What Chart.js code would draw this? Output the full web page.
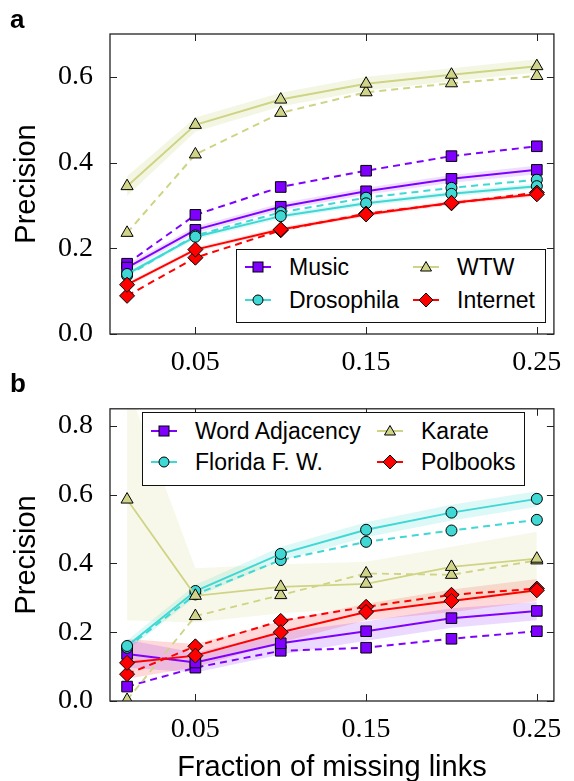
<!DOCTYPE html>
<html><head><meta charset="utf-8">
<script src="https://cdn.jsdelivr.net/npm/chart.js@4.4.0/dist/chart.umd.min.js"></script>
<style>
html,body{margin:0;padding:0;background:#fff;overflow:hidden;width:574px;height:781px;position:relative;}
canvas{position:absolute;left:0;}
#cA{top:0;}
#cB{top:375px;}
.panel{position:absolute;font:bold 26px "Liberation Sans",Arial,sans-serif;color:#000;line-height:26px;}
.legend{position:absolute;border:1px solid #111;background:#fff;font-family:"Liberation Sans",Arial,sans-serif;font-size:23px;color:#000;z-index:5;box-sizing:border-box;}
.legend svg{position:absolute;overflow:visible;}
.legend span{position:absolute;white-space:nowrap;line-height:30px;height:30px;}
</style></head>
<body>
<canvas id="cA" width="574" height="375"></canvas>
<canvas id="cB" width="574" height="430"></canvas>
<div class="panel" style="left:10px;top:6px;">a</div>
<div class="panel" style="left:10px;top:370px;">b</div>
<div class="legend" id="legA" style="left:236px;top:249px;width:310px;height:74px;"></div>
<div class="legend" id="legB" style="left:142px;top:412px;width:383px;height:74px;"></div>
<script>
// ---------------- data ----------------
const xValues = [0.01, 0.05, 0.10, 0.15, 0.20, 0.25];
const xTickValues = [0.05, 0.15, 0.25];
const xTickLabels = ['0.05', '0.15', '0.25'];
const yTickValuesA = [0.0, 0.2, 0.4, 0.6];
const yTickLabelsA = ['0.0', '0.2', '0.4', '0.6'];
const yTickValuesB = [0.0, 0.2, 0.4, 0.6, 0.8];
const yTickLabelsB = ['0.0', '0.2', '0.4', '0.6', '0.8'];

const legendNamesA = ['Music', 'Drosophila', 'WTW', 'Internet'];
const legendNamesB = ['Word Adjacency', 'Florida F. W.', 'Karate', 'Polbooks'];

// Panel a
const musicSolid    = [0.155, 0.243, 0.297, 0.333, 0.362, 0.383];
const musicDashed   = [0.164, 0.278, 0.343, 0.381, 0.415, 0.438];
const musicLow      = [0.147, 0.235, 0.289, 0.325, 0.353, 0.373];
const musicHigh     = [0.163, 0.251, 0.305, 0.341, 0.371, 0.393];
const drosSolid     = [0.140, 0.227, 0.275, 0.305, 0.327, 0.345];
const drosDashed    = [0.136, 0.230, 0.284, 0.318, 0.341, 0.360];
const drosLow       = [0.134, 0.221, 0.269, 0.299, 0.321, 0.339];
const drosHigh      = [0.146, 0.233, 0.281, 0.311, 0.333, 0.351];
const wtwSolid      = [0.345, 0.488, 0.547, 0.584, 0.605, 0.625];
const wtwDashed     = [0.236, 0.419, 0.516, 0.564, 0.585, 0.602];
const wtwLow        = [0.322, 0.472, 0.531, 0.568, 0.590, 0.610];
const wtwHigh       = [0.368, 0.505, 0.563, 0.600, 0.620, 0.641];
const internetSolid = [0.115, 0.197, 0.244, 0.279, 0.306, 0.326];
const internetDashed= [0.089, 0.178, 0.242, 0.281, 0.305, 0.330];
const internetLow   = [0.110, 0.192, 0.239, 0.274, 0.301, 0.321];
const internetHigh  = [0.120, 0.202, 0.249, 0.284, 0.311, 0.331];

// Panel b
const wordSolid     = [0.137, 0.112, 0.168, 0.203, 0.241, 0.262];
const wordDashed    = [0.042, 0.097, 0.146, 0.155, 0.181, 0.203];
const wordLow       = [0.097, 0.083, 0.135, 0.175, 0.213, 0.235];
const wordHigh      = [0.178, 0.140, 0.200, 0.232, 0.270, 0.288];
const floridaSolid  = [0.160, 0.320, 0.428, 0.498, 0.548, 0.588];
const floridaDashed = [0.155, 0.310, 0.410, 0.463, 0.496, 0.527];
const floridaLow    = [0.146, 0.302, 0.408, 0.476, 0.525, 0.565];
const floridaHigh   = [0.176, 0.338, 0.448, 0.520, 0.571, 0.610];
const karateSolid   = [0.586, 0.306, 0.332, 0.341, 0.390, 0.414];
const karateDashed  = [0.003, 0.247, 0.308, 0.371, 0.367, 0.409];
const karateLow     = [0.235, 0.228, 0.255, 0.270, 0.290, 0.310];
const karateHigh    = [0.920, 0.386, 0.398, 0.405, 0.449, 0.492];
const polSolid      = [0.111, 0.132, 0.200, 0.259, 0.291, 0.322];
const polDashed     = [0.078, 0.159, 0.233, 0.274, 0.309, 0.327];
const polLow        = [0.065, 0.098, 0.170, 0.235, 0.258, 0.290];
const polHigh       = [0.180, 0.166, 0.232, 0.283, 0.324, 0.355];

// ---------------- styles ----------------
const PURPLE = '#7f00ff', CYAN = '#3fd8d4', KHAKI = '#cfd484', RED = '#ff0000';
const KHAKI_FILL = '#d0d488';
const SERIF = '"Liberation Serif","Times New Roman",serif';
const SANS = '"Liberation Sans",Arial,sans-serif';

function pts(vals) { return vals.map((v, i) => ({x: xValues[i], y: v})); }
function band(low, high, color) {
  return [
    {data: pts(low), borderWidth: 0, borderColor: 'rgba(0,0,0,0)', pointRadius: 0, pointHoverRadius: 0, fill: false, order: 1000},
    {data: pts(high), borderWidth: 0, borderColor: 'rgba(0,0,0,0)', pointRadius: 0, pointHoverRadius: 0, fill: '-1', backgroundColor: color, order: 1000}
  ];
}
function series(vals, color, fillColor, style, radius, dashed, seq, lw) {
  return {
    data: pts(vals), borderColor: color, borderWidth: lw || 2, borderDash: dashed ? [7, 5] : [],
    pointStyle: style, pointRadius: radius, pointHoverRadius: radius,
    pointBackgroundColor: fillColor, pointBorderColor: '#000', pointBorderWidth: 1,
    fill: false, tension: 0, order: 500 - seq, clip: 0
  };
}

const framePlugin = {
  id: 'frame',
  afterDatasetsDraw(chart) {
    const {ctx, chartArea: a, scales: {x, y}} = chart;
    ctx.save();
    ctx.strokeStyle = '#222';
    ctx.lineWidth = 1.3;
    ctx.setLineDash([]);
    ctx.strokeRect(a.left, a.top, a.right - a.left, a.bottom - a.top);
    const L = 7;
    ctx.lineWidth = 1;
    ctx.beginPath();
    x.ticks.forEach(t => {
      const p = Math.round(x.getPixelForValue(t.value)) + 0.5;
      ctx.moveTo(p, a.bottom); ctx.lineTo(p, a.bottom - L);
      ctx.moveTo(p, a.top); ctx.lineTo(p, a.top + L);
    });
    y.ticks.forEach(t => {
      const p = Math.round(y.getPixelForValue(t.value)) + 0.5;
      ctx.moveTo(a.left, p); ctx.lineTo(a.left + L, p);
      ctx.moveTo(a.right, p); ctx.lineTo(a.right - L, p);
    });
    ctx.stroke();
    ctx.restore();
  }
};

function makeChart(id, datasets, yMax, yTicks, yLabels, xAxisHeight, topPad, xTitle) {
  return new Chart(document.getElementById(id), {
    type: 'line',
    data: {datasets},
    options: {
      responsive: false, animation: false, devicePixelRatio: 1,
      layout: {padding: {left: 0, right: 17, top: topPad, bottom: 0}},
      plugins: {legend: {display: false}, tooltip: {enabled: false}, filler: {drawTime: 'beforeDatasetsDraw'}},
      scales: {
        x: {
          type: 'linear', min: 0, max: 0.26,
          afterBuildTicks: s => { s.ticks = xTickValues.map(v => ({value: v})); },
          afterFit: s => { s.height = xAxisHeight; },
          grid: {display: false, drawTicks: false}, border: {display: false},
          ticks: {padding: 12, color: '#000', font: {family: SERIF, size: 28},
                  callback: (v) => xTickLabels[xTickValues.indexOf(v)] ?? ''},
          title: xTitle ? {display: true, text: xTitle, color: '#000', font: {family: SANS, size: 29}, padding: {top: 0, bottom: 20}} : {display: false}
        },
        y: {
          type: 'linear', min: 0, max: yMax,
          afterBuildTicks: s => { s.ticks = yTicks.map(v => ({value: v})); },
          afterFit: s => { s.width = 110; },
          grid: {display: false, drawTicks: false}, border: {display: false},
          ticks: {padding: 17, color: '#000', font: {family: SERIF, size: 28},
                  callback: (v) => yLabels[yTicks.indexOf(v)] ?? ''},
          title: {display: true, text: 'Precision', color: '#000', font: {family: SANS, size: 29}, padding: {top: 10, bottom: 0}}
        }
      }
    },
    plugins: [framePlugin]
  });
}

const dsA = [
  ...band(wtwLow, wtwHigh, 'rgba(207,212,132,0.22)'),
  ...band(musicLow, musicHigh, 'rgba(127,0,255,0.13)'),
  ...band(drosLow, drosHigh, 'rgba(63,216,212,0.18)'),
  ...band(internetLow, internetHigh, 'rgba(255,0,0,0.12)'),
  series(musicDashed, PURPLE, PURPLE, 'rect', 7.5, true, 1),
  series(musicSolid, PURPLE, PURPLE, 'rect', 7.5, false, 2),
  series(drosDashed, CYAN, CYAN, 'circle', 5.5, true, 3),
  series(drosSolid, CYAN, CYAN, 'circle', 5.5, false, 4),
  series(wtwDashed, KHAKI, KHAKI_FILL, 'triangle', 7, true, 5),
  series(wtwSolid, KHAKI, KHAKI_FILL, 'triangle', 7, false, 6),
  series(internetDashed, RED, RED, 'rectRot', 7.5, true, 7),
  series(internetSolid, RED, RED, 'rectRot', 7.5, false, 8)
];
const dsB = [
  ...band(karateLow, karateHigh, 'rgba(207,212,132,0.17)'),
  ...band(wordLow, wordHigh, 'rgba(127,0,255,0.15)'),
  ...band(floridaLow, floridaHigh, 'rgba(63,216,212,0.18)'),
  ...band(polLow, polHigh, 'rgba(255,0,0,0.15)'),
  series(wordDashed, PURPLE, PURPLE, 'rect', 7.5, true, 1),
  series(wordSolid, PURPLE, PURPLE, 'rect', 7.5, false, 2),
  series(floridaDashed, CYAN, CYAN, 'circle', 5.5, true, 3),
  series(floridaSolid, CYAN, CYAN, 'circle', 5.5, false, 4),
  series(karateDashed, KHAKI, KHAKI_FILL, 'triangle', 7, true, 5, 1.8),
  series(karateSolid, KHAKI, KHAKI_FILL, 'triangle', 7, false, 6, 1.8),
  series(polDashed, RED, RED, 'rectRot', 7.5, true, 7),
  series(polSolid, RED, RED, 'rectRot', 7.5, false, 8)
];

makeChart('cA', dsA, 0.7, yTickValuesA, yTickLabelsA, 41, 34, null);
makeChart('cB', dsB, 0.85, yTickValuesB, yTickLabelsB, 104, 24, 'Fraction of missing links');

// ---------------- HTML legends ----------------
function markerSVG(kind, color, fill) {
  let m;
  if (kind === 'rect') m = `<rect x="8" y="3" width="10" height="10" fill="${fill}" stroke="#000" stroke-width="1"/>`;
  else if (kind === 'circle') m = `<circle cx="13" cy="8" r="5" fill="${fill}" stroke="#000" stroke-width="1"/>`;
  else if (kind === 'triangle') m = `<polygon points="13,2.5 7.5,12 18.5,12" fill="${fill}" stroke="#000" stroke-width="1"/>`;
  else m = `<polygon points="13,1 20,8 13,15 6,8" fill="${fill}" stroke="#000" stroke-width="1"/>`;
  return `<line x1="0" y1="8" x2="26" y2="8" stroke="${color}" stroke-width="2"/>` + m;
}
function buildLegend(id, names, colX, textX, rowY) {
  const kinds = ['rect', 'circle', 'triangle', 'rectRot'];
  const colors = [PURPLE, CYAN, KHAKI, RED];
  const fills = [PURPLE, CYAN, KHAKI_FILL, RED];
  const el = document.getElementById(id);
  let html = '';
  names.forEach((n, i) => {
    const c = Math.floor(i / 2), r = i % 2;
    html += `<svg width="26" height="16" style="left:${colX[c]}px;top:${rowY[r] - 8}px">${markerSVG(kinds[i], colors[i], fills[i])}</svg>`;
    html += `<span style="left:${textX[c]}px;top:${rowY[r] - 15}px">${n}</span>`;
  });
  el.innerHTML = html;
}
buildLegend('legA', legendNamesA, [8, 176], [52, 220], [17, 50]);
buildLegend('legB', legendNamesB, [8, 234], [52, 278], [18, 49]);
</script>
</body></html>
